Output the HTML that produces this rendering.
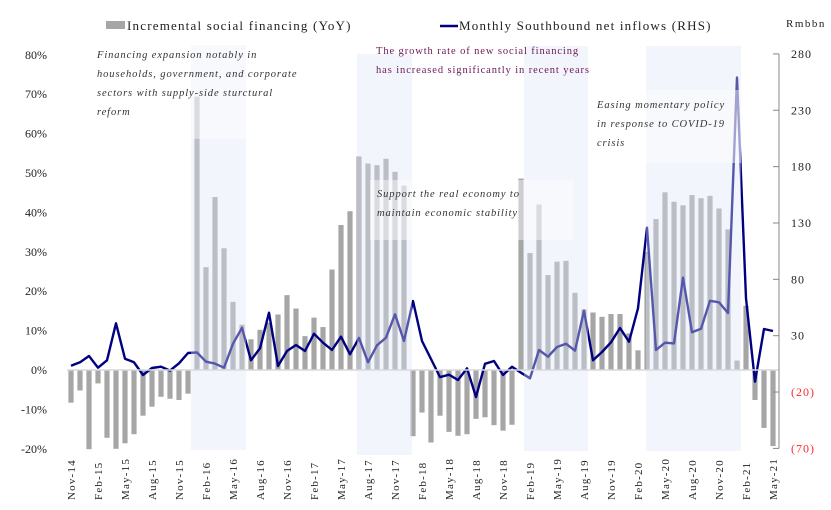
<!DOCTYPE html>
<html><head><meta charset="utf-8">
<style>
html,body{margin:0;padding:0;background:#fff;}
svg{display:block;font-family:"Liberation Serif","Noto Serif CJK SC",serif;}
</style></head>
<body>
<svg id="chart" width="831" height="510" viewBox="0 0 831 510">
<g id="bars"></g>
<g id="line"></g>
<g id="shades"></g>
<g id="axes"></g>
<g id="notes"></g>
<g>
  <rect x="106" y="21" width="19" height="8" fill="#a6a6a6"/>
  <text x="127" y="30" font-size="13" letter-spacing="1.2" fill="#222">Incremental social financing (YoY)</text>
  <line x1="440" y1="26" x2="458" y2="26" stroke="#000080" stroke-width="2.5"/>
  <text x="459" y="30" font-size="13" letter-spacing="1.2" fill="#222">Monthly Southbound net inflows (RHS)</text>
  <text x="786" y="27" font-size="11" letter-spacing="1.5" fill="#222">Rmbbn</text>
</g>
</svg>
<script>
const months = ["Nov-14","Dec-14","Jan-15","Feb-15","Mar-15","Apr-15","May-15","Jun-15","Jul-15","Aug-15","Sep-15","Oct-15","Nov-15","Dec-15",
"Jan-16","Feb-16","Mar-16","Apr-16","May-16","Jun-16","Jul-16","Aug-16","Sep-16","Oct-16","Nov-16","Dec-16",
"Jan-17","Feb-17","Mar-17","Apr-17","May-17","Jun-17","Jul-17","Aug-17","Sep-17","Oct-17","Nov-17","Dec-17",
"Jan-18","Feb-18","Mar-18","Apr-18","May-18","Jun-18","Jul-18","Aug-18","Sep-18","Oct-18","Nov-18","Dec-18",
"Jan-19","Feb-19","Mar-19","Apr-19","May-19","Jun-19","Jul-19","Aug-19","Sep-19","Oct-19","Nov-19","Dec-19",
"Jan-20","Feb-20","Mar-20","Apr-20","May-20","Jun-20","Jul-20","Aug-20","Sep-20","Oct-20","Nov-20","Dec-20",
"Jan-21","Feb-21","Mar-21","Apr-21","May-21"];
const financingYoY = [-8.3,-5.2,-20.1,-3.4,-17.2,-20,-18.6,-16.3,-11.6,-9.3,-6.8,-7.3,-7.6,-6.0,
69.4,26.1,43.9,30.9,17.3,11.5,7.8,10.2,12,14.1,19,15.6,
8.6,13.3,10.9,25.5,36.8,40.3,54.2,52.4,52,53.6,50.3,46.8,
-16.8,-10.8,-18.4,-11.6,-15.7,-16.7,-16.3,-12.4,-12,-14,-15.4,-13.9,
48.6,29.7,42,24.1,27.5,27.7,19.6,15.4,14.6,13.5,14.2,14.2,
9.3,5,30,38.3,45.1,42.7,41.8,44.4,43.6,44.2,41,35.7,
2.4,16.3,-7.6,-14.7,-19.3];
const southbound = [3.4,6.4,12,1.6,8.2,41,9.6,6.4,-4.9,1.3,2.5,-1,5.5,14.6,
15.2,6.9,5.2,1.6,22.9,37,8.2,18.8,50.4,3.1,16.4,21.7,
16.4,31.8,23.8,17.3,29.1,13.5,28,6.4,21.5,28.2,49,25.3,
60.8,25.3,9.3,-6.7,-4.6,-9.3,1.1,-24.4,5.1,7.5,-4.9,2.5,
-2.8,-7.8,17.3,11.4,20,22.9,16.7,52.2,8.2,15.5,24.1,36.8,
24.7,54.3,125.8,17.3,23.8,23.2,81.5,33,36.2,61,59.6,50.1,
259,63.2,-10.8,35.9,34.2];
const leftTicks = [80,70,60,50,40,30,20,10,0,-10,-20];
const rightTicks = [280,230,180,130,80,30,-20,-70];
const rightTickLabels = ["280","230","180","130","80","30","(20)","(70)"];

const NS="http://www.w3.org/2000/svg";
function mk(tag,attrs,parent){const e=document.createElementNS(NS,tag);for(const k in attrs)e.setAttribute(k,attrs[k]);parent.appendChild(e);return e;}
const xScale = i => 71 + i*9.0;
const yL = v => 370 - v*3.94;
const yR = v => 369.5 - v*1.127;

const gb=document.getElementById('bars');
financingYoY.forEach((v,i)=>{
  const y0=yL(0), y1=yL(v);
  const r=mk('rect',{x:xScale(i)-2.6,y:Math.min(y0,y1),width:5.2,height:Math.abs(y1-y0),fill:'#a6a6a6'},gb);
  
  
});
const gl=document.getElementById('line');
const pts=southbound.map((v,i)=>xScale(i).toFixed(1)+','+yR(v).toFixed(1)).join(' ');
const pl=mk('polyline',{points:pts,fill:'none',stroke:'#000080','stroke-width':2.4,'stroke-linejoin':'round'},gl);



// shaded periods
const gs=document.getElementById('shades');
[[191,246,45,450],[357,412,54,455],[524,588,46,451],[646,741,46,451]].forEach((s,k)=>{
  const r=mk('rect',{x:s[0],y:s[2],width:s[1]-s[0],height:s[3]-s[2],fill:'#dfe6f7','fill-opacity':0.38},gs);
  
  
});
[[191,246,45,139],[370,573,180,240],[646,741,90,163]].forEach((s,k)=>{
  const r=mk('rect',{x:s[0],y:s[2],width:s[1]-s[0],height:s[3]-s[2],fill:'#ffffff','fill-opacity':0.45},gs);
  
  
});

// axes
const ga=document.getElementById('axes');
const zl=mk('line',{x1:67,x2:779,y1:yL(0),y2:yL(0),stroke:'#d9d9d9','stroke-width':1.5},ga);


leftTicks.forEach(t=>{
  const tx=mk('text',{x:47,y:yL(t)+4,'font-size':12,'text-anchor':'end',fill:'#222'},ga);
  tx.textContent=t+'%';
  
  
});
const ax=mk('line',{x1:779,x2:779,y1:yR(280),y2:yR(-70),stroke:'#888','stroke-width':1},ga);


rightTicks.forEach((t,k)=>{
  const tk=mk('line',{x1:773,x2:779,y1:yR(t),y2:yR(t),stroke:'#888'},ga);
  
  
  const tx=mk('text',{x:791,y:yR(t)+4,'font-size':12,'letter-spacing':1,fill:t<0?'#ff2a2a':'#222'},ga);
  tx.textContent=rightTickLabels[k];
  
  
});
months.forEach((m,i)=>{
  if(i%3!==0)return;
  const x=xScale(i)+4;
  const tx=mk('text',{x:x,y:500,'font-size':11,'letter-spacing':1.2,fill:'#222',transform:'rotate(-90 '+x+' 500)'},ga);
  tx.textContent=m;
  
  
});

// annotations
const gn=document.getElementById('notes');
function note(lines,x,y,color,italic,name){
  lines.forEach((l,k)=>{
    const t=mk('text',{x:x,y:y+k*19,'font-size':10.5,'letter-spacing':0.9,fill:color,'font-style':italic?'italic':'normal'},gn);
    t.textContent=l;
    
    
  });
}
note(["Financing expansion notably in","households, government, and corporate","sectors with supply-side sturctural","reform"],97,58,'#333',true,'annotation-supply-side');
note(["The growth rate of new social financing","has increased significantly in recent years"],376,54,'#6b1a5a',false,'annotation-growth-rate');
note(["Support the real economy to","maintain economic stability"],377,197,'#333',true,'annotation-real-economy');
note(["Easing momentary policy","in response to COVID-19","crisis"],597,108,'#333',true,'annotation-covid');
</script>
</body></html>
